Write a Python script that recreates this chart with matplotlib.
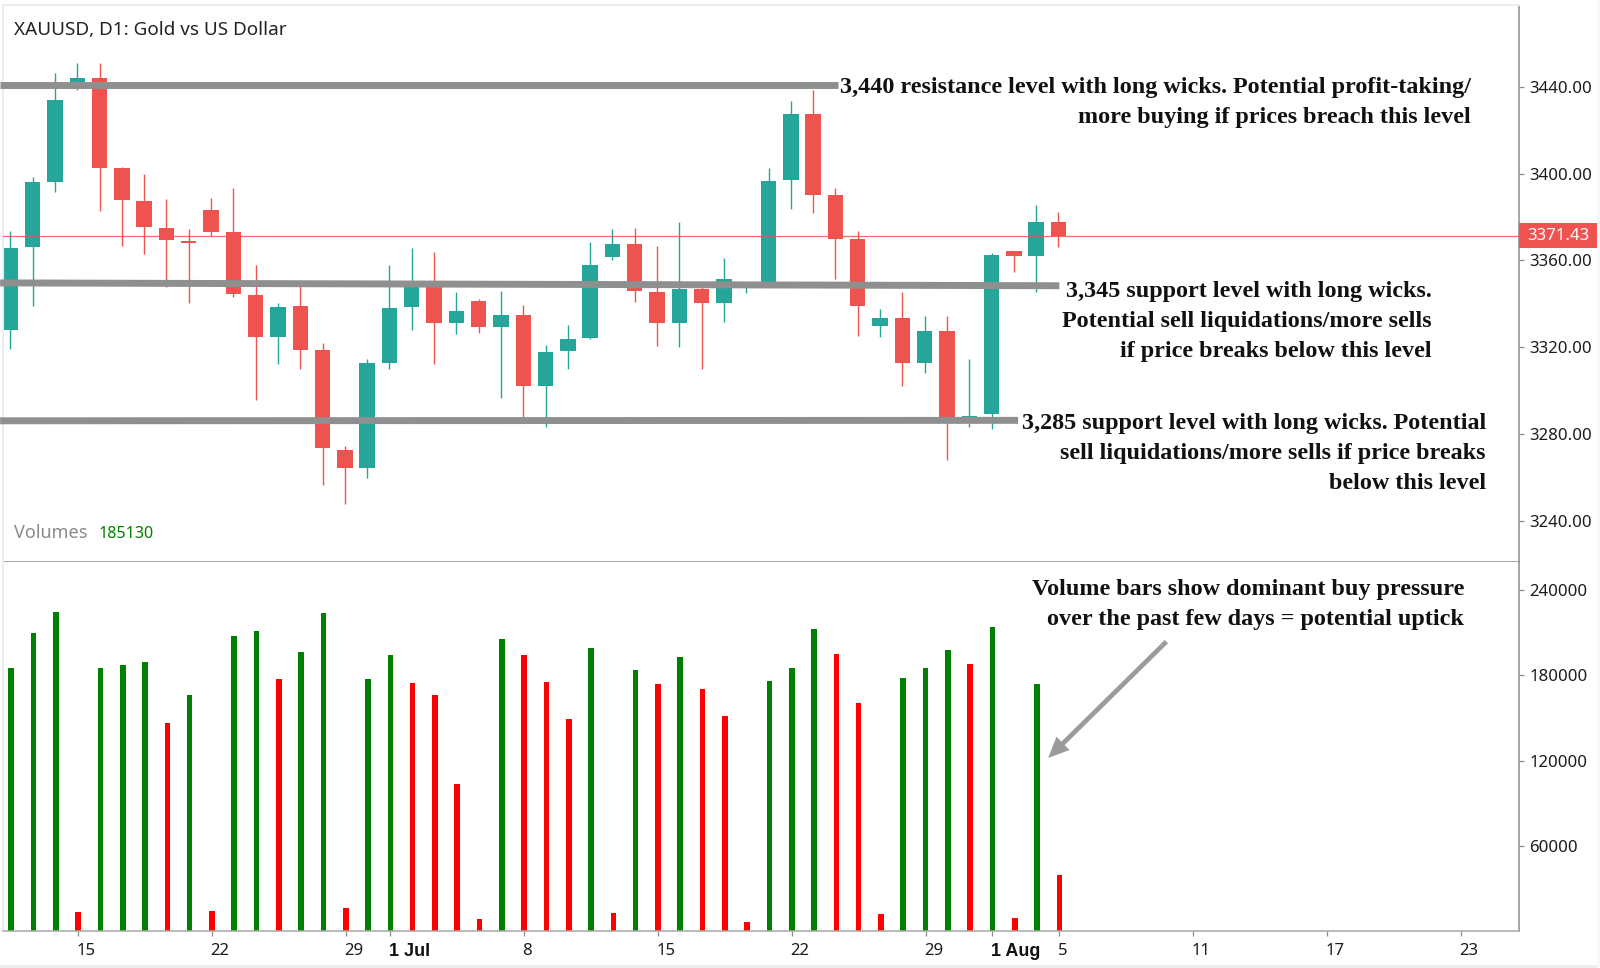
import matplotlib
matplotlib.use('Agg')
import matplotlib.pyplot as plt
from matplotlib.patches import Rectangle

# Candles
opens = [3327.9, 3366.0, 3396.3, 3442.2, 3444.0, 3402.6, 3387.2, 3374.9, 3369.1, 3383.4, 3372.9, 3344.0,
         3324.8, 3338.8, 3318.5, 3272.4, 3264.4, 3312.8, 3338.5, 3348.6, 3331.3, 3341.4, 3329.4, 3334.8,
         3302.2, 3318.2, 3324.0, 3361.4, 3367.7, 3345.4, 3331.3, 3346.8, 3340.5, 3347.6, 3350.2, 3396.9,
         3427.5, 3390.0, 3369.7, 3329.9, 3333.6, 3312.8, 3327.6, 3287.1, 3289.3, 3364.3, 3362.2, 3377.6]
highs = [3373.7, 3398.6, 3446.6, 3451.2, 3451.2, 3403.2, 3400.0, 3388.2, 3374.3, 3388.6, 3393.2, 3357.9,
         3340.2, 3350.2, 3321.7, 3274.4, 3314.3, 3357.9, 3365.7, 3363.7, 3345.3, 3342.2, 3346.0, 3339.4,
         3321.0, 3330.2, 3368.5, 3374.3, 3374.9, 3366.5, 3377.6, 3347.9, 3361.1, 3350.2, 3402.5, 3433.5,
         3438.6, 3393.2, 3373.7, 3337.6, 3345.4, 3334.2, 3334.2, 3314.5, 3363.3, 3364.5, 3385.4, 3382.2]
lows = [3319.3, 3339.0, 3391.6, 3438.6, 3382.9, 3366.6, 3362.8, 3347.9, 3340.2, 3371.4, 3343.0, 3295.6,
        3312.2, 3310.0, 3256.4, 3247.7, 3259.6, 3310.0, 3327.9, 3312.2, 3326.0, 3326.3, 3296.4, 3287.1,
        3283.3, 3310.0, 3323.7, 3360.2, 3341.0, 3320.7, 3320.0, 3310.0, 3331.7, 3344.8, 3349.4, 3383.7,
        3381.7, 3351.4, 3325.3, 3324.6, 3302.2, 3308.2, 3268.1, 3283.3, 3282.0, 3354.8, 3345.3, 3366.0]
closes = [3365.7, 3396.0, 3434.0, 3444.0, 3402.8, 3387.7, 3375.3, 3369.4, 3367.9, 3373.3, 3344.5, 3324.8,
          3338.6, 3318.8, 3273.6, 3264.4, 3312.5, 3338.2, 3348.6, 3331.3, 3336.8, 3329.4, 3334.8, 3302.2,
          3317.7, 3323.7, 3357.7, 3367.7, 3345.7, 3331.3, 3346.8, 3340.5, 3351.3, 3349.3, 3396.6, 3427.5,
          3390.3, 3370.0, 3339.1, 3333.6, 3312.8, 3327.6, 3286.4, 3288.2, 3362.5, 3362.2, 3377.6, 3371.4]

volumes = [185500, 209600, 224400, 13300, 185500, 187400, 189500, 146600, 166500, 14500, 207700, 211500,
           177500, 196500, 223700, 16600, 177500, 194400, 174500, 166500, 103500, 8400, 205600, 194400,
           175200, 149200, 199300, 13100, 183400, 174200, 193200, 170300, 151300, 6300, 176100, 185300,
           212400, 195300, 160200, 12200, 178200, 185300, 198100, 188300, 214300, 9400, 174200, 39300]
volume_up = [1, 1, 1, 0, 1, 1, 1, 0, 1, 0, 1, 1,
             0, 1, 1, 0, 1, 1, 0, 0, 0, 0, 1, 0,
             0, 0, 1, 0, 1, 0, 1, 0, 0, 0, 1, 1,
             1, 0, 0, 0, 1, 1, 1, 0, 1, 0, 1, 0]

last_price = 3371.43
price_ticks = [3240, 3280, 3320, 3360, 3400, 3440]
volume_ticks = [60000, 120000, 180000, 240000]
date_ticks = [3, 9, 15, 17, 23, 29, 35, 41, 44, 47, 53, 59, 65]
date_labels = ['15', '22', '29', '1 Jul', '8', '15', '22', '29', '1 Aug', '5', '11', '17', '23']

# Hand drawn levels: start price, end price, last candle reached
level_lines = [(3441.0, 3441.0, 37.08), (3349.6, 3348.3, 47.0), (3286.0, 3286.2, 45.15)]

W, H = 1600, 968
TEAL = '#26a69a'
RED = '#ef5350'
AXIS = '#8c8c8c'
FRAME = '#ebedf1'
UI_FONT = 'Noto Sans'
NOTE_FONT = 'Liberation Serif'
NOTE_SIZE = 17.35
TICK_SIZE = 12.1


def fig_x(px):
    return px / W


def fig_y(py):
    return 1 - py / H


def axes_rect(left, top, right, bottom):
    return [fig_x(left), fig_y(bottom), (right - left) / W, (bottom - top) / H]


fig = plt.figure(figsize=(W / 100, H / 100), dpi=100, facecolor='white')
ax_price = fig.add_axes(axes_rect(3, 5, 1519.4, 561.7))
ax_vol = fig.add_axes(axes_rect(3, 561.7, 1519.4, 931.3))

idx = list(range(len(opens)))
x_range = (-0.37, 67.63)

# Price pane, candles sit a touch left of the volume bars in the screenshot
for i in idx:
    color = TEAL if closes[i] > opens[i] else RED
    ax_price.vlines(i - 0.04, lows[i], highs[i], color=color, lw=1.0, zorder=2)
    ax_price.bar(i - 0.04, abs(closes[i] - opens[i]), bottom=min(opens[i], closes[i]), width=0.69,
                 color=color, zorder=2.5)
ax_price.axhline(last_price, color=RED, lw=0.9, alpha=0.85, zorder=3)

for start, end, stop in level_lines:
    ax_price.plot([-0.5, stop], [start, end], color='#8f8f8f', lw=5.0, solid_capstyle='butt',
                  clip_on=False, zorder=5)

ax_price.set_xlim(x_range)
ax_price.set_ylim(3221, 3477.8)
ax_price.set_xticks([])
ax_price.yaxis.tick_right()
ax_price.set_yticks(price_ticks)
ax_price.set_yticklabels(['%.2f' % p for p in price_ticks], family=UI_FONT, fontsize=TICK_SIZE, color='#1c1c1c')

# Last price tag
ax_price.add_patch(Rectangle((1.0, last_price - 5.8), 0.0512, 11.6, transform=ax_price.get_yaxis_transform(),
                             facecolor=RED, edgecolor='none', clip_on=False, zorder=6))
ax_price.text(1.0256, last_price, '%.2f' % last_price, transform=ax_price.get_yaxis_transform(),
              ha='center', va='center', color='white', family=UI_FONT, fontsize=TICK_SIZE, zorder=7)

# Volume pane
bar_colors = ['#008000' if up else '#ff0000' for up in volume_up]
ax_vol.bar(idx, volumes, width=0.25, color=bar_colors, zorder=2)
ax_vol.set_xlim(x_range)
ax_vol.set_ylim(0, 259900)
ax_vol.yaxis.tick_right()
ax_vol.set_yticks(volume_ticks)
ax_vol.set_yticklabels([str(v) for v in volume_ticks], family=UI_FONT, fontsize=TICK_SIZE, color='#1c1c1c')

# Date labels start at their tick rather than centring on it, month starts are bold
ax_vol.set_xticks(date_ticks)
ax_vol.set_xticklabels([])
for tick, label in zip(date_ticks, date_labels):
    month_start = ' ' in label
    ax_vol.annotate(label, xy=(tick, 0), xytext=(-1.2, -14.2), textcoords='offset points',
                    ha='left', va='center', annotation_clip=False, color='#111111' if month_start else '#1c1c1c',
                    family='Liberation Sans' if month_start else UI_FONT,
                    fontweight='bold' if month_start else 'normal',
                    fontsize=13 if month_start else TICK_SIZE)

for ax in (ax_price, ax_vol):
    ax.tick_params(axis='both', length=3.6, width=0.9, color=AXIS, pad=3.4)
    ax.spines['right'].set(color=AXIS, lw=1.1)
    ax.spines['left'].set(color=FRAME, lw=1.5)
ax_price.spines['top'].set(color=FRAME, lw=1.5)
ax_price.spines['bottom'].set(color=AXIS, lw=1.1)
ax_vol.spines['top'].set_visible(False)
ax_vol.spines['bottom'].set(color='#a8a8a8', lw=1.1)

# Terminal style captions
fig.text(fig_x(14), fig_y(30), 'XAUUSD, D1: Gold vs US Dollar', family=UI_FONT, fontsize=13.6,
         color='#222222', va='center')
fig.text(fig_x(14), fig_y(533), 'Volumes', family=UI_FONT, fontsize=13, color='#8a8a8a', va='center')
fig.text(fig_x(99), fig_y(534), '185130', family=UI_FONT, fontsize=11.6, color='#008000', va='center')

# Analyst notes
notes = [
    (1471, 87, '3,440 resistance level with long wicks. Potential profit-taking/'),
    (1471, 117, 'more buying if prices breach this level'),
    (1431.5, 292, '3,345 support level with long wicks.'),
    (1431.5, 322, 'Potential sell liquidations/more sells'),
    (1431.5, 352, 'if price breaks below this level'),
    (1486, 423, '3,285 support level with long wicks. Potential'),
    (1486, 453, 'sell liquidations/more sells if price breaks'),
    (1486, 483, 'below this level'),
    (1464, 589, 'Volume bars show dominant buy pressure'),
    (1464, 619, 'over the past few days = potential uptick'),
]
for right, center, line in notes:
    fig.text(fig_x(right), fig_y(center), line, family=NOTE_FONT, fontweight='bold', fontsize=NOTE_SIZE,
             color='#111111', ha='right', va='center', zorder=10)

ax_vol.annotate('', xy=(46.5, 121900), xytext=(51.8, 203700),
                arrowprops=dict(width=3.4, headwidth=13.5, headlength=15, facecolor='#9b9b9b',
                                edgecolor='none', linewidth=0, shrink=0))

# Page edge
fig.add_artist(Rectangle((0, 0), 1, 3 / H, transform=fig.transFigure, facecolor=FRAME, edgecolor='none'))
fig.add_artist(Rectangle((1597 / W, 0), 3 / W, 1, transform=fig.transFigure, facecolor='#f6f7f9', edgecolor='none'))

fig.savefig('out.png', dpi=100)
